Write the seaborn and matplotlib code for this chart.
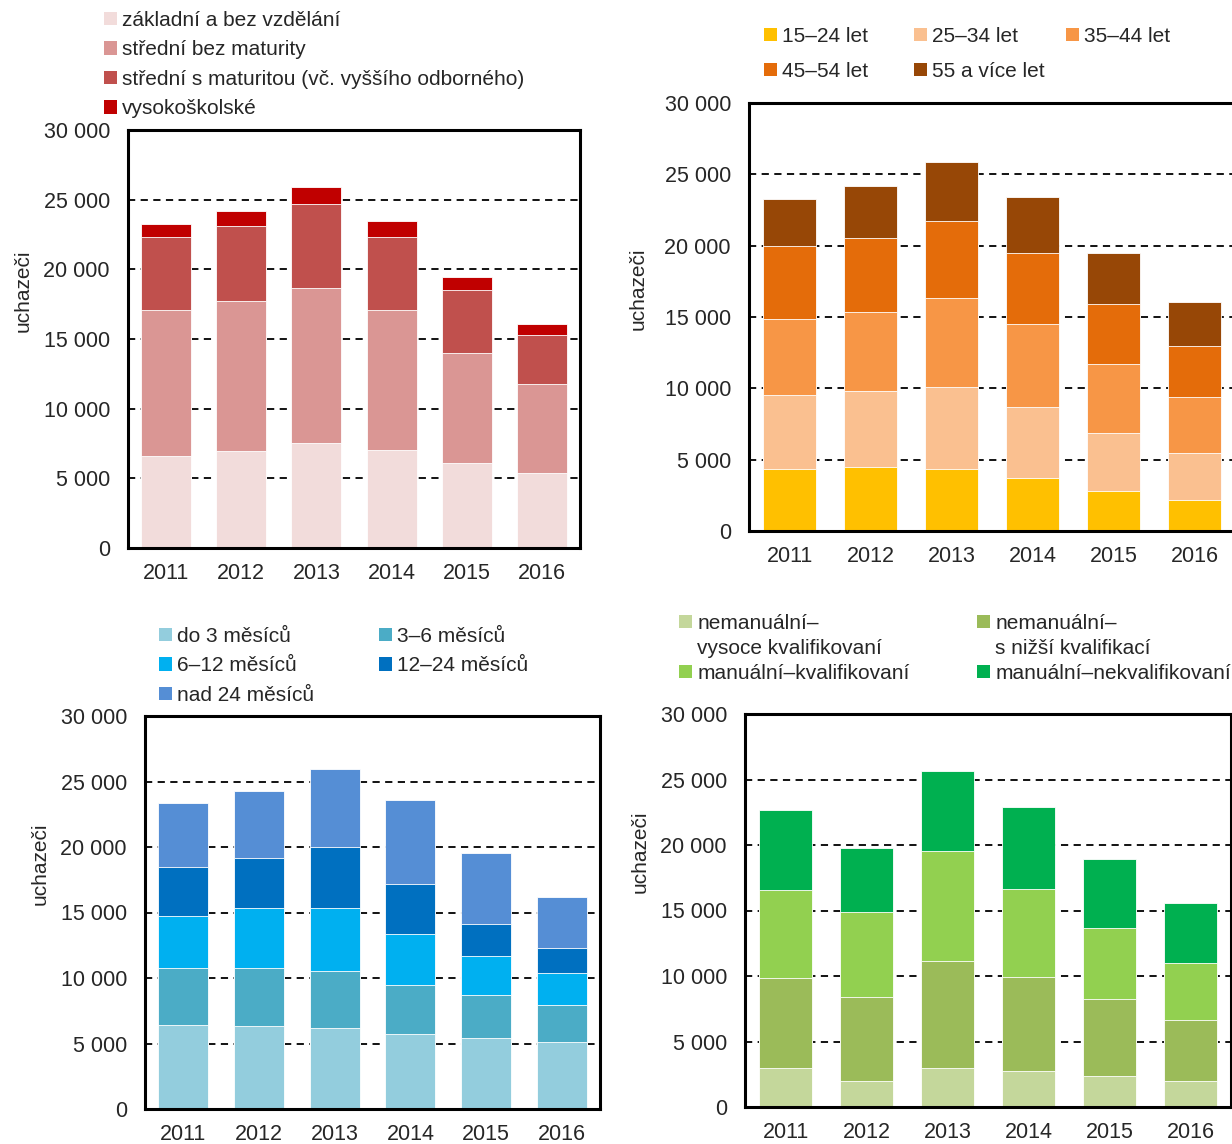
import numpy as np
import matplotlib
matplotlib.use("Agg")
import matplotlib.pyplot as plt
import seaborn as sns
from matplotlib.patches import Patch
from matplotlib.ticker import FuncFormatter

years = ["2011", "2012", "2013", "2014", "2015", "2016"]

# vzdělání
edu_labels = ["základní a bez vzdělání", "střední bez maturity",
              "střední s maturitou (vč. vyššího odborného)", "vysokoškolské"]
edu_zakladni = [6600, 6990, 7510, 7030, 6100, 5360]
edu_bez_mat = [10460, 10710, 11170, 10030, 7900, 6390]
edu_s_mat = [5280, 5410, 6030, 5280, 4490, 3510]
edu_vs = [910, 1050, 1180, 1130, 980, 840]
edu_colors = ["#F2DCDB", "#DA9694", "#C0504D", "#C00000"]

# věk
age_labels = ["15–24 let", "25–34 let", "35–44 let", "45–54 let", "55 a více let"]
age_15_24 = [4340, 4480, 4340, 3700, 2810, 2160]
age_25_34 = [5200, 5340, 5780, 4990, 4060, 3300]
age_35_44 = [5340, 5550, 6240, 5840, 4850, 3910]
age_45_54 = [5120, 5150, 5400, 4950, 4220, 3590]
age_55 = [3290, 3660, 4130, 3950, 3540, 3120]
age_colors = ["#FFC000", "#FAC090", "#F79646", "#E46C0A", "#974706"]

# délka evidence
dur_labels = ["do 3 měsíců", "3–6 měsíců", "6–12 měsíců", "12–24 měsíců", "nad 24 měsíců"]
dur_do3 = [6410, 6360, 6180, 5730, 5450, 5090]
dur_3_6 = [4380, 4430, 4380, 3760, 3250, 2850]
dur_6_12 = [3940, 4580, 4810, 3840, 2980, 2470]
dur_12_24 = [3760, 3810, 4630, 3870, 2470, 1850]
dur_nad24 = [4880, 5080, 5990, 6400, 5390, 3900]
dur_colors = ["#93CDDD", "#4BACC6", "#00B0F0", "#0070C0", "#558ED5"]

# profese
occ_labels = ["nemanuální–\nvysoce kvalifikovaní", "nemanuální–\ns nižší kvalifikací",
              "manuální–kvalifikovaní", "manuální–nekvalifikovaní"]
occ_vysoce = [3000, 1960, 2970, 2720, 2390, 1960]
occ_nizsi = [6840, 6430, 8190, 7200, 5870, 4680]
occ_manual_kval = [6760, 6460, 8360, 6730, 5420, 4340]
occ_manual_nekval = [6050, 4920, 6120, 6260, 5220, 4580]
occ_colors = ["#C4D79B", "#9BBB59", "#92D050", "#00B050"]

sns.set_style("white")
plt.rcParams["font.family"] = ["Liberation Sans", "DejaVu Sans"]

W, H = 1232, 1144
fig = plt.figure(figsize=(W / 100, H / 100), dpi=100)


def thousands(v, pos):
    return f"{int(v):,}".replace(",", " ")


def stacked(ax, parts, colors, label_xy):
    tops = np.cumsum(np.array(parts), axis=0)
    # draw tallest first, lower segments on top of it
    for i in range(len(parts) - 1, -1, -1):
        sns.barplot(x=years, y=tops[i], color=colors[i], saturation=1, width=0.66,
                    edgecolor="#FFFFFF", linewidth=0.6, errorbar=None, ax=ax)
    ax.set_ylim(0, 30000)
    ax.set_xlim(-0.5, 5.5)
    ax.set_yticks(range(0, 30001, 5000))
    ax.yaxis.set_major_formatter(FuncFormatter(thousands))
    ax.set_axisbelow(True)
    ax.yaxis.grid(True, color="black", linestyle=(0, (4, 3)), linewidth=1.3)
    ax.xaxis.grid(False)
    for s in ax.spines.values():
        s.set_visible(True)
        s.set_color("black")
        s.set_linewidth(2.2)
    ax.set_xticks(range(6))
    ax.set_xticklabels(years)
    ax.set_xticks(np.arange(-0.5, 6, 1), minor=True)
    ax.tick_params(axis="x", which="major", length=0, labelsize=15.5, pad=11)
    ax.tick_params(axis="x", which="minor", length=6, width=1.6, direction="out")
    ax.tick_params(axis="y", length=6, width=1.6, direction="out", labelsize=15.5, pad=7)
    ax.set_xlabel("")
    ax.set_ylabel("uchazeči", fontsize=15)
    ax.yaxis.set_label_coords(*label_xy)


leg_kw = dict(frameon=False, fontsize=15, handlelength=0.62, handleheight=0.62,
              handletextpad=0.25, borderaxespad=0, borderpad=0, loc="upper left")


def legend_column(colors, labels, x, y, spacing):
    handles = [Patch(facecolor=c, edgecolor="none") if c else
               Patch(facecolor="none", edgecolor="none") for c in colors]
    fig.legend(handles, labels, bbox_to_anchor=(x / W, 1 - y / H),
               labelspacing=spacing, **leg_kw)


# vlevo nahoře - vzdělání
ax1 = fig.add_axes([128 / W, 1 - 548 / H, 452 / W, 418 / H])
stacked(ax1, [edu_zakladni, edu_bez_mat, edu_s_mat, edu_vs], edu_colors, (-0.212, 0.615))
legend_column(edu_colors, edu_labels, 104, 11, 0.5)

# vpravo nahoře - věk
ax2 = fig.add_axes([749 / W, 1 - 531 / H, 486 / W, 428 / H])
stacked(ax2, [age_15_24, age_25_34, age_35_44, age_45_54, age_55], age_colors, (-0.208, 0.565))
legend_column([age_colors[0], age_colors[3]], [age_labels[0], age_labels[3]], 764, 27, 0.75)
legend_column([age_colors[1], age_colors[4]], [age_labels[1], age_labels[4]], 914, 27, 0.75)
legend_column([age_colors[2]], [age_labels[2]], 1066, 27, 0.75)

# vlevo dole - délka evidence
ax3 = fig.add_axes([145 / W, 1 - 1109 / H, 455 / W, 393 / H])
stacked(ax3, [dur_do3, dur_3_6, dur_6_12, dur_12_24, dur_nad24], dur_colors, (-0.210, 0.623))
legend_column([dur_colors[0], dur_colors[2], dur_colors[4]],
              [dur_labels[0], dur_labels[2], dur_labels[4]], 159, 627, 0.5)
legend_column([dur_colors[1], dur_colors[3]], [dur_labels[1], dur_labels[3]], 379, 627, 0.5)

# vpravo dole - profese
ax4 = fig.add_axes([745 / W, 1 - 1107 / H, 486 / W, 393 / H])
stacked(ax4, [occ_vysoce, occ_nizsi, occ_manual_kval, occ_manual_nekval], occ_colors, (-0.196, 0.649))
col1 = occ_labels[0].split("\n") + [occ_labels[2]]
col2 = occ_labels[1].split("\n") + [occ_labels[3]]
legend_column([occ_colors[0], None, occ_colors[2]], col1, 679, 614, 0.28)
legend_column([occ_colors[1], None, occ_colors[3]], col2, 977, 614, 0.28)

fig.savefig("out.png", dpi=100)
